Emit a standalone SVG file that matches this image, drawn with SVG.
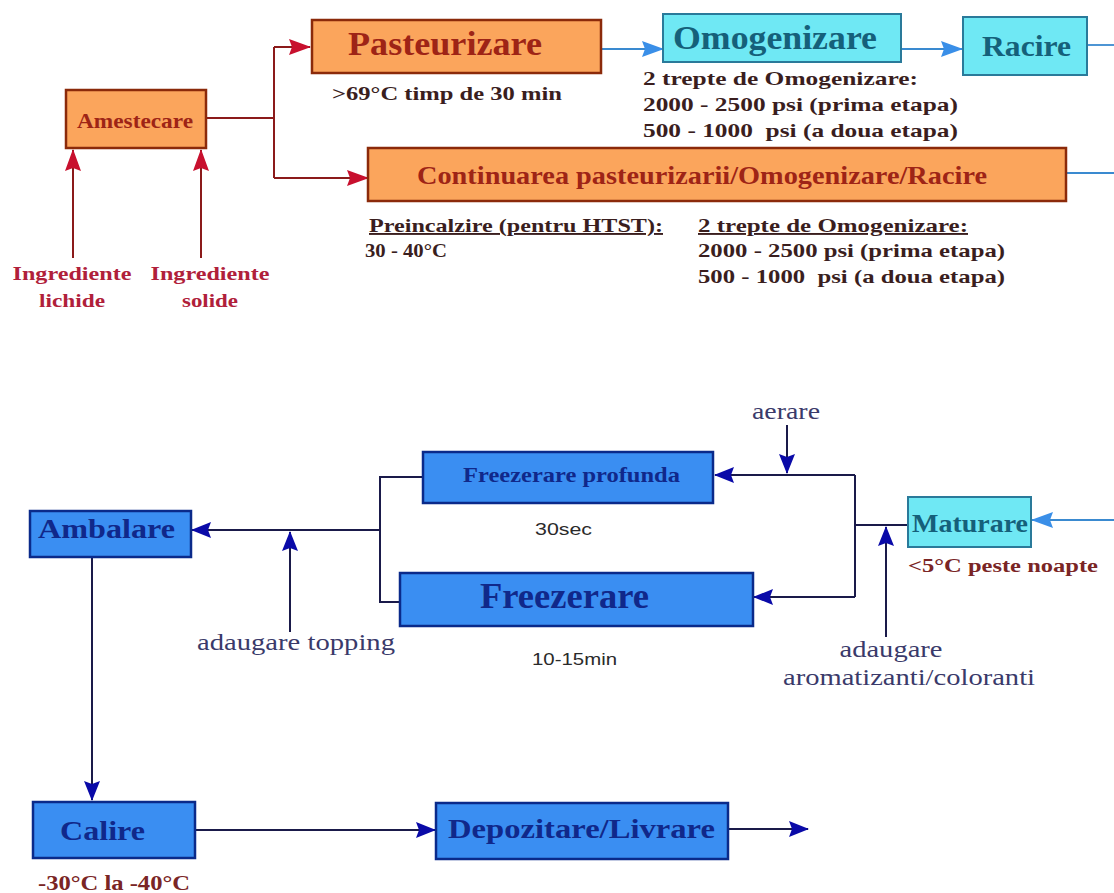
<svg xmlns="http://www.w3.org/2000/svg" width="1114" height="893" viewBox="0 0 1114 893">
<defs>
<style>
.bo{fill:#FBA55C;stroke:#8B2A0A;stroke-width:2.5}
.bc{fill:#6FE8F4;stroke:#2A7A9A;stroke-width:2}
.bb{fill:#3A8EF2;stroke:#0A2A8A;stroke-width:2.5}
text{font-family:"Liberation Serif","Times New Roman",serif}
.to{fill:#9E2416;font-weight:bold}
.tc{fill:#15607A;font-weight:bold}
.tb{fill:#10288A;font-weight:bold}
.sub{fill:#3A1E1E;font-weight:bold;font-size:19px;white-space:pre}
.ing{fill:#B0203A;font-weight:bold;font-size:18px}
.bl{fill:#3A3A6A;font-size:23px}
.ss{font-family:"Liberation Sans",Arial,sans-serif;fill:#2A2A2A;font-size:17px}
.rd{fill:#7A2525;font-weight:bold}
.lr{stroke:#8B1A1A;stroke-width:2;fill:none}
.lc{stroke:#3A8AD0;stroke-width:1.8;fill:none}
.lb{stroke:#1A1A4A;stroke-width:2;fill:none}
</style>
<marker id="ar" markerUnits="userSpaceOnUse" markerWidth="22" markerHeight="18" viewBox="0 0 22 18" refX="21" refY="9" orient="auto"><path d="M0,1 L22,9 L0,17 L3,9 z" fill="#C8102E"/></marker>
<marker id="ac" markerUnits="userSpaceOnUse" markerWidth="22" markerHeight="18" viewBox="0 0 22 18" refX="21" refY="9" orient="auto"><path d="M0,1 L22,9 L0,17 L3,9 z" fill="#3A8FE8"/></marker>
<marker id="ab" markerUnits="userSpaceOnUse" markerWidth="20" markerHeight="18" viewBox="0 0 20 18" refX="19" refY="9" orient="auto"><path d="M0,1 L20,9 L0,17 L3,9 z" fill="#0A0AA8"/></marker>
</defs>
<rect width="1114" height="893" fill="#FFFFFF"/>

<g id="connectors">
<path class="lr" d="M73,258 V150" marker-end="url(#ar)"/>
<path class="lr" d="M201,258 V150" marker-end="url(#ar)"/>
<path class="lr" d="M206,118 H274 M274,47 V178"/>
<path class="lr" d="M274,47 H310" marker-end="url(#ar)"/>
<path class="lr" d="M274,178 H368" marker-end="url(#ar)"/>
<path class="lc" d="M601,49 H663" marker-end="url(#ac)"/>
<path class="lc" d="M901,49 H962" marker-end="url(#ac)"/>
<path class="lc" d="M1087,45 H1114"/>
<path class="lc" d="M1066,173 H1114"/>
<path class="lc" d="M1114,520 H1032" marker-end="url(#ac)"/>
<path class="lb" d="M908,525 H855 M855,475 V597"/>
<path class="lb" d="M855,475 H715" marker-end="url(#ab)"/>
<path class="lb" d="M855,597 H754" marker-end="url(#ab)"/>
<path class="lb" d="M787,425 V473" marker-end="url(#ab)"/>
<path class="lb" d="M886,637 V527" marker-end="url(#ab)"/>
<path class="lb" d="M423,477 H380 V602 H400"/>
<path class="lb" d="M380,530 H192" marker-end="url(#ab)"/>
<path class="lb" d="M290,632 V532" marker-end="url(#ab)"/>
<path class="lb" d="M92,557 V800" marker-end="url(#ab)"/>
<path class="lb" d="M195,830 H435" marker-end="url(#ab)"/>
<path class="lb" d="M728,829 H808" marker-end="url(#ab)"/>
</g>

<g id="amestecare">
<rect class="bo" x="66" y="90" width="140" height="58"/>
<text class="to" x="77" y="128" font-size="21" textLength="116" lengthAdjust="spacingAndGlyphs">Amestecare</text>
</g>
<g id="ingrediente-lichide">
<text class="ing" x="72" y="280" text-anchor="middle" textLength="119" lengthAdjust="spacingAndGlyphs">Ingrediente</text>
<text class="ing" x="72" y="307" text-anchor="middle" textLength="66" lengthAdjust="spacingAndGlyphs">lichide</text>
</g>
<g id="ingrediente-solide">
<text class="ing" x="210" y="280" text-anchor="middle" textLength="119" lengthAdjust="spacingAndGlyphs">Ingrediente</text>
<text class="ing" x="210" y="307" text-anchor="middle" textLength="56" lengthAdjust="spacingAndGlyphs">solide</text>
</g>
<g id="pasteurizare">
<rect class="bo" x="312" y="20" width="289" height="53"/>
<text class="to" x="348" y="55" font-size="34" textLength="194" lengthAdjust="spacingAndGlyphs">Pasteurizare</text>
<text class="sub" x="332" y="100" textLength="230" lengthAdjust="spacingAndGlyphs">&gt;69°C timp de 30 min</text>
</g>
<g id="omogenizare">
<rect class="bc" x="663" y="14" width="238" height="48"/>
<text class="tc" x="673" y="49" font-size="33" textLength="204" lengthAdjust="spacingAndGlyphs">Omogenizare</text>
<text class="sub" x="643" y="85" textLength="275" lengthAdjust="spacingAndGlyphs">2 trepte de Omogenizare:</text>
<text class="sub" x="643" y="111" textLength="315" lengthAdjust="spacingAndGlyphs">2000 - 2500 psi (prima etapa)</text>
<text class="sub" x="643" y="137" textLength="315" lengthAdjust="spacingAndGlyphs" xml:space="preserve">500 - 1000  psi (a doua etapa)</text>
</g>
<g id="racire">
<rect class="bc" x="963" y="17" width="124" height="58"/>
<text class="tc" x="982" y="56" font-size="30" textLength="89" lengthAdjust="spacingAndGlyphs">Racire</text>
</g>
<g id="continuarea">
<rect class="bo" x="368" y="148" width="698" height="53"/>
<text class="to" x="417" y="184" font-size="26" textLength="570" lengthAdjust="spacingAndGlyphs">Continuarea pasteurizarii/Omogenizare/Racire</text>
<text class="sub" x="369" y="232" text-decoration="underline" textLength="294" lengthAdjust="spacingAndGlyphs">Preincalzire (pentru HTST):</text>
<text class="sub" x="365" y="257" textLength="82" lengthAdjust="spacingAndGlyphs">30 - 40°C</text>
<text class="sub" x="698" y="232" text-decoration="underline" textLength="270" lengthAdjust="spacingAndGlyphs">2 trepte de Omogenizare:</text>
<text class="sub" x="698" y="257" textLength="307" lengthAdjust="spacingAndGlyphs">2000 - 2500 psi (prima etapa)</text>
<text class="sub" x="698" y="283" textLength="307" lengthAdjust="spacingAndGlyphs" xml:space="preserve">500 - 1000  psi (a doua etapa)</text>
</g>
<g id="maturare">
<rect class="bc" x="908" y="497" width="123" height="50"/>
<text class="tc" x="912" y="532" font-size="26" textLength="116" lengthAdjust="spacingAndGlyphs">Maturare</text>
<text class="rd" x="908" y="572" font-size="18" textLength="190" lengthAdjust="spacingAndGlyphs">&lt;5°C peste noapte</text>
</g>
<g id="aerare">
<text class="bl" x="786" y="419" text-anchor="middle" textLength="68" lengthAdjust="spacingAndGlyphs">aerare</text>
</g>
<g id="adaugare-aromatizanti">
<text class="bl" x="891" y="657" text-anchor="middle" textLength="103" lengthAdjust="spacingAndGlyphs">adaugare</text>
<text class="bl" x="909" y="685" text-anchor="middle" textLength="252" lengthAdjust="spacingAndGlyphs">aromatizanti/coloranti</text>
</g>
<g id="freezerare-profunda">
<rect class="bb" x="423" y="452" width="290" height="51"/>
<text class="tb" x="463" y="482" font-size="21" textLength="217" lengthAdjust="spacingAndGlyphs">Freezerare profunda</text>
<text class="ss" x="535" y="535" textLength="57" lengthAdjust="spacingAndGlyphs">30sec</text>
</g>
<g id="freezerare">
<rect class="bb" x="400" y="573" width="353" height="53"/>
<text class="tb" x="480" y="608" font-size="35" textLength="169" lengthAdjust="spacingAndGlyphs">Freezerare</text>
<text class="ss" x="532" y="665" textLength="85" lengthAdjust="spacingAndGlyphs">10-15min</text>
</g>
<g id="adaugare-topping">
<text class="bl" x="296" y="650" text-anchor="middle" textLength="198" lengthAdjust="spacingAndGlyphs">adaugare topping</text>
</g>
<g id="ambalare">
<rect class="bb" x="30" y="511" width="161" height="46"/>
<text class="tb" x="38" y="538" font-size="27" textLength="137" lengthAdjust="spacingAndGlyphs">Ambalare</text>
</g>
<g id="calire">
<rect class="bb" x="33" y="802" width="162" height="56"/>
<text class="tb" x="60" y="840" font-size="27" textLength="85" lengthAdjust="spacingAndGlyphs">Calire</text>
<text class="rd" x="38" y="890" font-size="20" textLength="152" lengthAdjust="spacingAndGlyphs">-30°C la -40°C</text>
</g>
<g id="depozitare">
<rect class="bb" x="436" y="803" width="292" height="56"/>
<text class="tb" x="448" y="838" font-size="27" textLength="267" lengthAdjust="spacingAndGlyphs">Depozitare/Livrare</text>
</g>
</svg>
